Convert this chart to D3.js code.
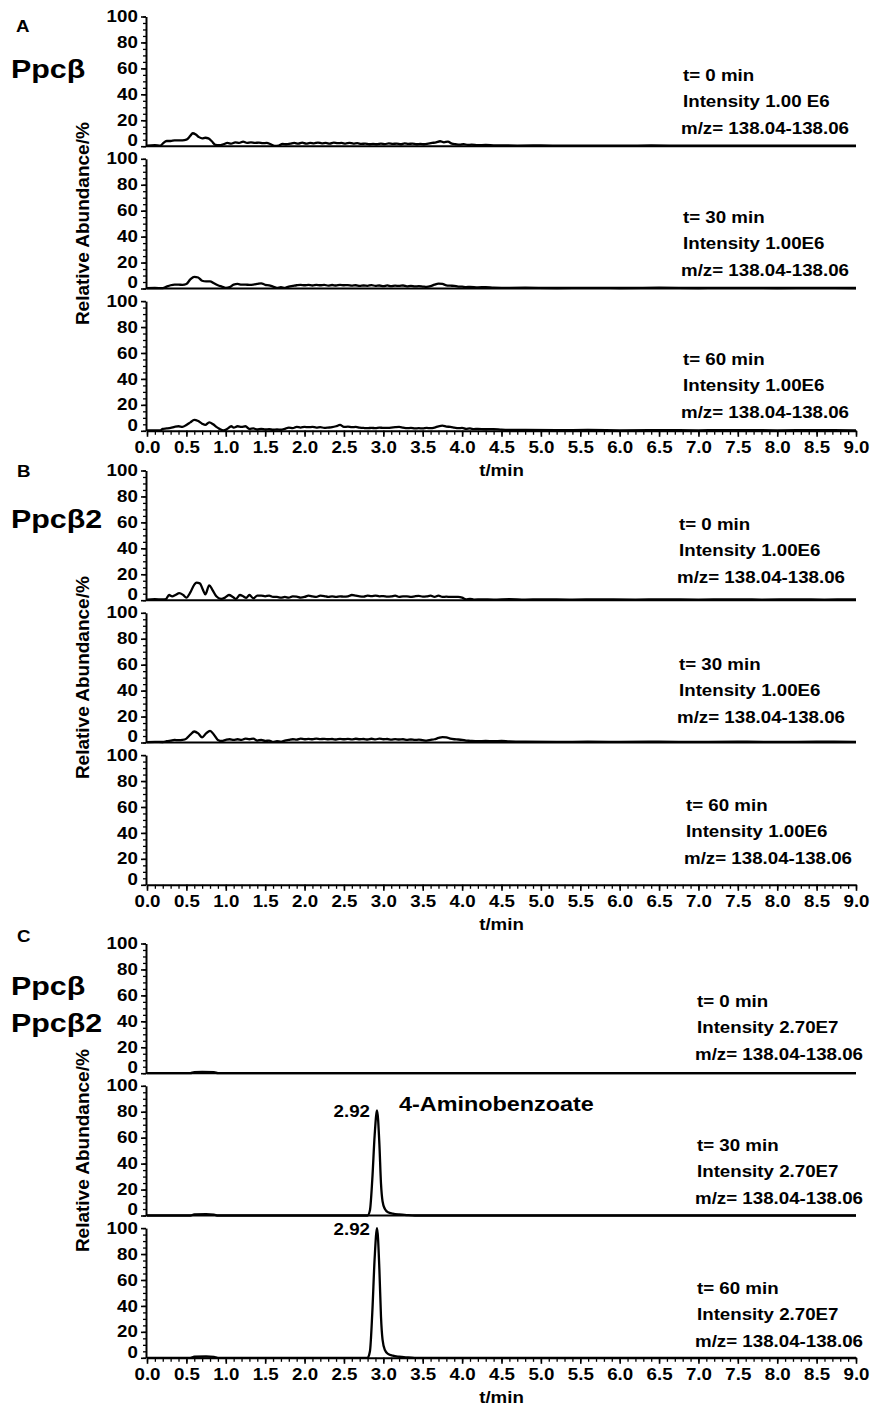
<!DOCTYPE html>
<html><head><meta charset="utf-8">
<script src="https://cdn.jsdelivr.net/npm/d3@7"></script>
<style>
body{margin:0;background:#fff}
text{font-family:"Liberation Sans",Arial,sans-serif;font-weight:bold;fill:#000}
</style>
</head><body>
<svg id="c" width="883" height="1408"></svg>
<script>
// ---------- data ----------
const xTickLabels = ["0.0","0.5","1.0","1.5","2.0","2.5","3.0","3.5","4.0","4.5","5.0","5.5","6.0","6.5","7.0","7.5","8.0","8.5","9.0"];
const yTickLabels = [0,20,40,60,80,100];
const groupLetters = ["A","B","C"];
const strainLabels = [["Ppcβ"],["Ppcβ2"],["Ppcβ","Ppcβ2"]];
const timeLabels = ["t= 0 min","t= 30 min","t= 60 min"];
const intensityA = ["Intensity 1.00 E6","Intensity 1.00E6","Intensity 1.00E6"];
const intensityB = ["Intensity 1.00E6","Intensity 1.00E6","Intensity 1.00E6"];
const intensityC = ["Intensity 2.70E7","Intensity 2.70E7","Intensity 2.70E7"];
const mzLabel = "m/z= 138.04-138.06";
const peakRT = ["2.92","2.92"];
const compoundName = "4-Aminobenzoate";

// Panel A: Ppcβ, t = 0 / 30 / 60 min  [t(min), relative abundance %]
const A_t0 = [[0,0.5],[0.1,0.8],[0.17,0.5],[0.2,2],[0.25,4],[0.3,4],[0.35,4.5],[0.4,4.5],[0.45,4.5],[0.5,5],[0.55,8],[0.58,10],[0.62,9],[0.66,7],[0.7,6],[0.74,6.5],[0.78,6],[0.82,4],[0.87,1],[0.92,0.8],[0.97,1.5],[1.02,2.5],[1.07,2],[1.12,3],[1.17,2.5],[1.22,3.5],[1.27,2.5],[1.32,3],[1.37,2.5],[1.42,2.8],[1.47,2.3],[1.52,2.5],[1.57,1.5],[1.62,0.3],[1.67,0.5],[1.72,1.8],[1.77,1.5],[1.82,2],[1.87,2.5],[1.92,2],[1.97,2.8],[2.02,2],[2.07,2.5],[2.12,2.2],[2.17,2.8],[2.22,2.2],[2.27,2.5],[2.32,2],[2.37,2.8],[2.42,2.3],[2.47,2.5],[2.52,2],[2.57,2.6],[2.62,2],[2.67,2.3],[2.72,1.8],[2.77,2],[2.82,1.5],[2.87,1.8],[2.92,1.5],[2.97,2],[3.02,1.6],[3.07,2.2],[3.12,1.8],[3.17,2],[3.22,1.5],[3.27,2.2],[3.32,1.8],[3.37,2],[3.42,1.5],[3.47,1.8],[3.52,1.5],[3.57,2],[3.62,2.5],[3.67,3],[3.72,3.8],[3.77,3],[3.82,3.5],[3.87,2],[3.92,1.5],[3.97,1.2],[4.02,1.6],[4.07,1],[4.12,1.2],[4.2,0.8],[4.3,1],[4.4,0.7],[4.5,0.6],[4.7,0.5],[5,0.6],[5.3,0.4],[5.6,0.5],[6,0.4],[6.4,0.6],[6.8,0.4],[7.2,0.5],[7.6,0.4],[8,0.5],[8.4,0.4],[8.8,0.5],[9,0.4]];
const A_t30 = [[0,0.3],[0.1,0.4],[0.2,0.3],[0.25,1.5],[0.3,2.5],[0.35,3],[0.4,3],[0.45,2.8],[0.5,3.5],[0.55,7],[0.6,9],[0.65,8.5],[0.7,6],[0.75,5.5],[0.8,5.5],[0.85,4],[0.9,2.5],[0.95,1.5],[1.0,0.5],[1.05,1],[1.1,3],[1.15,3.5],[1.2,3],[1.25,3],[1.3,2.8],[1.35,3],[1.4,3.5],[1.45,4],[1.5,2.8],[1.55,2.5],[1.6,1.5],[1.65,0.5],[1.7,1],[1.75,0.5],[1.8,1.5],[1.85,2],[1.9,2.5],[1.95,2.8],[2.0,2.5],[2.05,2.8],[2.1,2.3],[2.15,2.8],[2.2,2.5],[2.25,2.8],[2.3,2.2],[2.35,2.7],[2.4,2.3],[2.45,2.8],[2.5,2.5],[2.55,2.6],[2.6,2.2],[2.65,2.5],[2.7,2],[2.75,2.3],[2.8,2.1],[2.85,2.6],[2.9,2],[2.95,2.3],[3.0,1.8],[3.05,2.4],[3.1,1.8],[3.15,2.2],[3.2,2],[3.25,2.3],[3.3,1.7],[3.35,2],[3.4,1.6],[3.45,1.8],[3.5,1.5],[3.55,1.2],[3.6,1.8],[3.65,3],[3.7,3.8],[3.75,3.5],[3.8,2.5],[3.85,2.2],[3.9,2],[3.95,1.5],[4.0,1.4],[4.05,1.1],[4.1,1.2],[4.2,0.9],[4.3,1],[4.4,0.6],[4.5,0.5],[4.8,0.6],[5.2,0.4],[5.6,0.5],[6,0.4],[6.5,0.6],[7,0.4],[7.5,0.5],[8,0.4],[8.5,0.5],[9,0.4]];
const A_t60 = [[0,0.3],[0.1,0.4],[0.17,0.3],[0.2,1.5],[0.25,1.8],[0.3,2.2],[0.35,3],[0.4,3.5],[0.45,3],[0.5,4.5],[0.55,6.5],[0.6,8.5],[0.65,7.5],[0.7,5.5],[0.74,4.5],[0.79,6.5],[0.84,5],[0.88,3],[0.92,1.5],[0.97,0.3],[1.02,1.5],[1.07,3.5],[1.1,2.5],[1.15,3.5],[1.2,3],[1.25,3.5],[1.3,1.5],[1.35,1.8],[1.4,1],[1.45,1.5],[1.5,1],[1.55,1.2],[1.6,0.8],[1.65,1],[1.7,0.8],[1.75,1.5],[1.8,2.5],[1.85,2],[1.9,3],[1.95,2.5],[2.0,3],[2.05,2.8],[2.1,3],[2.15,2.5],[2.2,2.8],[2.25,2.3],[2.3,2.5],[2.35,2.8],[2.4,3.5],[2.45,4.5],[2.5,3],[2.55,3.2],[2.6,2.8],[2.65,3],[2.7,2.5],[2.75,2.2],[2.8,2],[2.85,2.3],[2.9,2],[2.95,2.5],[3.0,2.2],[3.05,2.3],[3.1,2.5],[3.15,2.8],[3.2,3],[3.25,2.5],[3.3,2],[3.35,2.2],[3.4,1.8],[3.45,2],[3.5,1.8],[3.55,2.2],[3.6,2],[3.65,2.5],[3.7,3.5],[3.75,4],[3.8,3.3],[3.85,3],[3.9,2.5],[3.95,2],[4.0,2.2],[4.05,1.5],[4.1,1.8],[4.15,1.3],[4.2,1.5],[4.3,1.2],[4.4,1.3],[4.5,0.9],[4.6,0.7],[4.8,0.6],[5.2,0.5],[5.6,0.6],[6,0.4],[6.5,0.5],[7,0.4],[7.5,0.5],[8,0.4],[8.5,0.5],[9,0.4]];

// Panel B: Ppcβ2
const B_t0 = [[0,0.5],[0.1,0.8],[0.2,0.6],[0.24,0.8],[0.28,4],[0.32,3],[0.36,4],[0.41,5.5],[0.46,4],[0.5,2],[0.55,6],[0.6,12],[0.63,13.5],[0.67,13],[0.71,8],[0.74,4.5],[0.79,11.5],[0.83,8],[0.88,3],[0.94,1],[0.99,2],[1.04,4],[1.09,2.5],[1.13,1],[1.18,4],[1.22,3],[1.26,1.8],[1.3,4],[1.35,1.5],[1.4,3.5],[1.45,3.5],[1.5,3],[1.55,3.5],[1.6,2.5],[1.65,2.5],[1.7,2],[1.75,2.5],[1.8,2],[1.85,3],[1.9,2.8],[1.95,2],[2.0,2.5],[2.05,3.5],[2.1,3],[2.15,2.5],[2.2,3.5],[2.25,3.2],[2.3,2.5],[2.35,3],[2.4,2.5],[2.45,3],[2.5,2.7],[2.55,3],[2.6,4],[2.65,3.5],[2.7,3],[2.75,2.8],[2.8,3.5],[2.85,3.2],[2.9,3.5],[2.95,3],[3.0,3.2],[3.05,2.8],[3.1,3],[3.15,3.5],[3.2,2.5],[3.25,3],[3.3,3],[3.35,2.5],[3.4,3],[3.45,3.3],[3.5,2.8],[3.55,3],[3.6,3.5],[3.65,2.5],[3.7,3.5],[3.75,2.5],[3.8,2.8],[3.85,2.5],[3.9,2.5],[3.95,2.5],[4.0,2],[4.05,0.6],[4.1,1],[4.15,0.5],[4.25,0.7],[4.4,0.5],[4.6,0.8],[4.8,0.5],[5,0.7],[5.4,0.5],[5.8,0.6],[6.2,0.5],[6.6,0.7],[7,0.5],[7.4,0.6],[7.8,0.5],[8.2,0.7],[8.6,0.5],[9,0.6]];
const B_t30 = [[0,0.3],[0.1,0.5],[0.2,0.4],[0.25,1],[0.3,1.5],[0.35,2],[0.4,1.8],[0.45,2],[0.5,3],[0.55,6],[0.6,8.5],[0.65,7],[0.7,4],[0.75,7],[0.8,9],[0.85,6],[0.9,2],[0.95,1.2],[1.0,2],[1.05,2.5],[1.1,2],[1.15,2.5],[1.2,2],[1.25,3],[1.3,2.5],[1.35,3],[1.4,1.5],[1.45,2],[1.5,1.2],[1.55,1.5],[1.6,0.5],[1.65,1],[1.7,0.6],[1.75,1.5],[1.8,2],[1.85,2.5],[1.9,2.2],[1.95,3],[2.0,2.5],[2.05,2.8],[2.1,2.5],[2.15,3],[2.2,2.6],[2.25,2.8],[2.3,2.5],[2.35,2.7],[2.4,2.3],[2.45,2.8],[2.5,2.5],[2.55,2.8],[2.6,2.4],[2.65,2.9],[2.7,2.5],[2.75,2.7],[2.8,2.3],[2.85,2.9],[2.9,2.4],[2.95,3],[3.0,2.5],[3.05,2.7],[3.1,2.2],[3.15,2.6],[3.2,2.3],[3.25,2.5],[3.3,2],[3.35,2.3],[3.4,2],[3.45,2.2],[3.5,1.8],[3.55,1.5],[3.6,2],[3.65,2.5],[3.7,3.5],[3.75,4.2],[3.8,4],[3.85,3],[3.9,2.5],[3.95,2.3],[4.0,2],[4.05,1.5],[4.1,1.3],[4.2,1],[4.3,1.2],[4.4,1],[4.5,1.2],[4.6,0.8],[4.8,0.6],[5.2,0.5],[5.6,0.6],[6,0.5],[6.5,0.6],[7,0.5],[7.5,0.6],[8,0.5],[8.5,0.6],[9,0.5]];
const B_t60 = [];

// Panel C: Ppcβ + Ppcβ2
const C_t0 = [[0,0],[0.55,0],[0.6,0.8],[0.7,1],[0.85,0.8],[0.9,0],[9,0]];
const C_t30 = [[0,0],[0.55,0],[0.6,0.8],[0.75,1],[0.85,0.7],[0.9,0],[2.8,0],[2.83,4],[2.86,28],[2.89,62],[2.92,81],[2.95,55],[2.97,25],[2.99,11],[3.02,5],[3.06,2.5],[3.12,1.5],[3.2,0.8],[3.3,0.3],[3.4,0],[9,0]];
const C_t60 = [[0,0],[0.55,0],[0.6,0.8],[0.75,1],[0.85,0.7],[0.9,0],[2.8,0],[2.83,5],[2.86,35],[2.89,77],[2.92,100],[2.95,68],[2.97,32],[2.99,14],[3.02,6],[3.06,3],[3.12,1.6],[3.2,0.8],[3.3,0.3],[3.4,0],[9,0]];

const seriesGroups = [[A_t0,A_t30,A_t60],[B_t0,B_t30,B_t60],[C_t0,C_t30,C_t60]];
const intensityGroups = [intensityA,intensityB,intensityC];

// ---------- layout ----------
const SX = 1.17;            // horizontal stretch of the original figure's text
const X0 = 147, X1 = 856;
const groupTop = [16.5, 470.5, 943.5];
const STEP = 142.3, H = 129.7;
const letterPos = [[16,32],[17,477],[17,942]];
const strainBase = [[78],[528],[995,1032]];
const annX = [[683,683,683],[679,679,686],[697,697,697]];
const annY = [[80.5,222.5,364.5],[529.5,669.5,810.5],[1006.5,1150.5,1293.5]];

const svg = d3.select("#c");
const x = d3.scaleLinear().domain([0,9]).range([X0,X1]);

function txt(g, px, py, s, size, anchor){
  return g.append("text")
    .attr("transform",`translate(${px},${py}) scale(${SX},1)`)
    .attr("font-size",size)
    .attr("text-anchor",anchor||"start")
    .text(s);
}

seriesGroups.forEach((series, gi) => {
  const G = svg.append("g");
  txt(G, letterPos[gi][0], letterPos[gi][1], groupLetters[gi], 16);
  strainLabels[gi].forEach((s,k)=> txt(G, 11, strainBase[gi][k], s, 26));

  series.forEach((data, si) => {
    const top = groupTop[gi] + si*STEP, bot = top + H;
    const y = d3.scaleLinear().domain([0,100]).range([bot, top]);
    const P = G.append("g");

    // minor y ticks
    P.append("g").attr("transform",`translate(${X0-1},0)`)
      .call(d3.axisLeft(y).tickValues(d3.range(0,101,5)).tickSize(3).tickFormat("").tickSizeOuter(0))
      .call(g=>g.select(".domain").remove())
      .selectAll("line").attr("stroke","#000").attr("stroke-width",1.3);
    // major y axis
    const ya = P.append("g").attr("transform",`translate(${X0-1},0)`)
      .call(d3.axisLeft(y).tickValues(yTickLabels).tickSize(5).tickPadding(2).tickSizeOuter(0));
    ya.select(".domain").attr("stroke","#000").attr("stroke-width",2);
    ya.selectAll("line").attr("stroke","#000").attr("stroke-width",1.6);
    ya.selectAll("text").attr("font-size",16).attr("font-family",null)
      .attr("transform",`scale(${SX},1)`)
      .attr("dy", d => d===0 ? "-0.05em" : "0.32em");

    // x baseline / axis
    if (si < 2) {
      P.append("line").attr("x1",X0-1).attr("x2",X1).attr("y1",bot).attr("y2",bot)
        .attr("stroke","#000").attr("stroke-width",2);
    } else {
      P.append("g").attr("transform",`translate(0,${bot})`)
        .call(d3.axisBottom(x).tickValues(d3.range(0,9.001,0.1)).tickSize(4).tickFormat("").tickSizeOuter(0))
        .call(g=>g.select(".domain").remove())
        .selectAll("line").attr("stroke","#000").attr("stroke-width",1.3);
      const xa = P.append("g").attr("transform",`translate(0,${bot})`)
        .call(d3.axisBottom(x).tickValues(xTickLabels.map(Number)).tickFormat((d,i)=>xTickLabels[i]).tickSize(6).tickPadding(5).tickSizeOuter(0));
      xa.select(".domain").attr("stroke","#000").attr("stroke-width",2);
      xa.selectAll("line").attr("stroke","#000").attr("stroke-width",1.6);
      xa.selectAll("text").attr("font-size",16).attr("font-family",null)
        .attr("transform",`scale(${SX},1)`);
      txt(P, (X0+X1)/2, bot+45, "t/min", 16, "middle");
    }

    // trace
    if (data.length) {
      P.append("path").datum(data)
        .attr("d", d3.line().x(d=>x(d[0])).y(d=>y(d[1])).curve(d3.curveMonotoneX))
        .attr("fill","none").attr("stroke","#000").attr("stroke-width",2.3)
        .attr("stroke-linejoin","round");
    }

    // annotations
    const ax = annX[gi][si], ay = annY[gi][si];
    txt(P, ax, ay, timeLabels[si], 16);
    txt(P, ax, ay+26.8, intensityGroups[gi][si], 16);
    txt(P, ax-2, ay+53.6, mzLabel, 16);

    // y-axis title on middle sub-panel
    if (si === 1) {
      P.append("text")
        .attr("transform",`translate(${89},${(top+bot)/2}) rotate(-90) scale(1,0.95)`)
        .attr("font-size",19).attr("text-anchor","middle").text("Relative Abundance/%");
    }

    // peak labels in panel C
    if (gi === 2 && si >= 1) {
      const apex = data.reduce((a,b)=> b[1]>a[1]?b:a);
      txt(P, x(apex[0]) - 7, y(apex[1]) + 7, peakRT[si-1], 16, "end");
      if (si === 1) txt(P, 399, y(apex[1]) + 1, compoundName, 20);
    }
  });
});
</script>
</body></html>
